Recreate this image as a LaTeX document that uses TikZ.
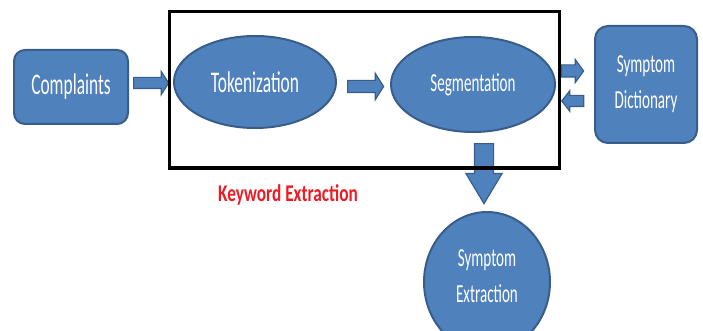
\documentclass[tikz,border=0pt]{standalone}
\usepackage{fontspec}
\newfontfamily\boxfont{Carlito}[FakeStretch=0.58]
\newfontfamily\keyfont{Carlito Bold}[FakeStretch=0.72]
\usetikzlibrary{shapes.geometric,shapes.arrows,positioning}
\definecolor{boxblue}{HTML}{4F81BD}
\definecolor{boxline}{HTML}{385D8A}
\definecolor{keyred}{HTML}{EE1A24}
\begin{document}
\begin{tikzpicture}[x=1pt, y=-1pt,
	block/.style = {draw=boxline, fill=boxblue, line width=2pt, text=white, rounded corners=11pt, align=center, inner sep=0pt},
	oval/.style = {draw=boxline, fill=boxblue, line width=2pt, text=white, ellipse, align=center, inner sep=0pt},
	fatarrow/.style = {single arrow, draw=boxline, fill=boxblue, line width=1.2pt, inner xsep=0pt},
	big/.style = {font=\fontsize{30}{36}\selectfont\boxfont},
	small/.style = {font=\fontsize{26}{36}\selectfont\boxfont}]
				\useasboundingbox (0,0) rectangle (703,331);
				\clip (0,0) rectangle (703,331);
				\node (compl) at (71,87) [block, big, minimum width=114, minimum height=74] {Complaints};
				\node (tok) at (255,82) [oval, big, minimum width=162, minimum height=92] {Tokenization};
				\node (seg) at (473,84.5) [oval, small, minimum width=164, minimum height=95] {Segmentation};
				\node (dict) at (646,84.5) [block, small, rounded corners=13pt, minimum width=102, minimum height=117] {Symptom\\Dictionary};
				\node (symex) at (487,282) [oval, small, minimum width=126, minimum height=140] {\raisebox{5pt}[\height][\depth]{\begin{tabular}{@{}c@{}}Symptom\\Extraction\end{tabular}}};
				\node (in) [fatarrow, right=4pt of compl, yshift=4pt, inner ysep=5pt, minimum height=35, single arrow head extend=6, single arrow tip angle=115] {};
				\node (next) [fatarrow, right=10pt of tok, yshift=-4.5pt, inner ysep=5.5pt, minimum height=36, single arrow head extend=7, single arrow tip angle=115] {};
				\node (lookup) [fatarrow, right=5pt of seg, yshift=13.5pt, inner ysep=5.5pt, minimum height=22, single arrow head extend=5.5, single arrow tip angle=108] {};
				\node (reply) [fatarrow, yshift=-16.5pt, rotate=180, right=5pt of seg, anchor=east, inner ysep=5pt, minimum height=22, single arrow head extend=4.5, single arrow tip angle=104] {};
				\node (down) [fatarrow, xshift=11pt, rotate=-90, below=10pt of seg, anchor=west, inner ysep=9pt, minimum height=60, single arrow head extend=8.5, single arrow tip angle=62] {};
				\draw[line width=3pt] (169,12) rectangle (559,168);
				\node (kw) at (288,195) [text=keyred, font=\fontsize{24}{28}\selectfont\keyfont] {Keyword Extraction};
				\end{tikzpicture}
\end{document}
